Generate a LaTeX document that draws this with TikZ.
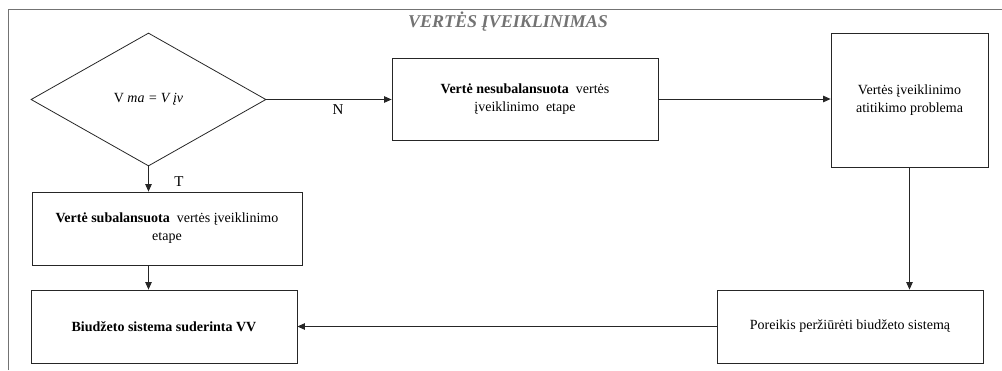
\documentclass[tikz,border=0pt]{standalone}
\usepackage{fontspec}
\setmainfont{Liberation Serif}
\usetikzlibrary{shapes.geometric,arrows.meta}

\begin{document}
\begin{tikzpicture}[x=1pt,y=-1pt,
  line/.style={draw=black!85,line width=0.8pt},
  box/.style={line,rectangle,align=center,inner sep=2pt,font=\fontsize{14}{18}\selectfont},
  decision/.style={line,diamond,inner sep=0pt,font=\fontsize{14}{16}\selectfont},
  arr/.style={line,-{Triangle[length=7.5pt,width=6.5pt]}},
  lbl/.style={font=\fontsize{15}{17}\selectfont}]
\useasboundingbox (0,0) rectangle (1002,370);

% page frame
\draw[black!55,line width=0.8pt] (8,370) -- (8,9) -- (1002,9);

% title
\node[font=\fontsize{18}{20}\selectfont\bfseries\itshape,text=black!55] (title) at (508,22) {VERTĖS ĮVEIKLINIMAS};

% blocks
\node[decision,minimum width=235pt,minimum height=133pt,aspect=1.77] (dec) at (148.5,99.5) {V \textit{ma = V įv}};
\node[box,minimum width=266pt,minimum height=82pt] (unb) at (525,99) {\textbf{Vertė nesubalansuota}\ \ vertės\\įveiklinimo\ \ etape};
\node[box,minimum width=157pt,minimum height=134pt] (prob) at (909.5,100) {Vertės įveiklinimo\\atitikimo problema};
\node[box,minimum width=270pt,minimum height=73pt] (bal) at (167,228.5) {\textbf{Vertė subalansuota}\ \ vertės įveiklinimo\\etape};
\node[box,minimum width=266pt,minimum height=73pt] (bud) at (164,326.5) {\textbf{Biudžeto sistema suderinta VV}};
\node[box,minimum width=266pt,minimum height=73pt] (need) at (850,326.5) {Poreikis peržiūrėti biudžeto sistemą};

% connectors
\draw[arr] (dec.east) -- (dec.east -| unb.west);
\draw[arr] (unb.east) -- (unb.east -| prob.west);
\draw[arr] (dec.south) -- (dec.south |- bal.north);
\draw[arr] (dec.south |- bal.south) -- (dec.south |- bud.north);
\draw[arr] (prob.south) -- (prob.south |- need.north);
\draw[arr] (need.west) -- (need.west -| bud.east);

% branch labels
\node[lbl] (no) at (338,110) {N};
\node[lbl] (yes) at (179,182) {T};
\end{tikzpicture}
\end{document}
